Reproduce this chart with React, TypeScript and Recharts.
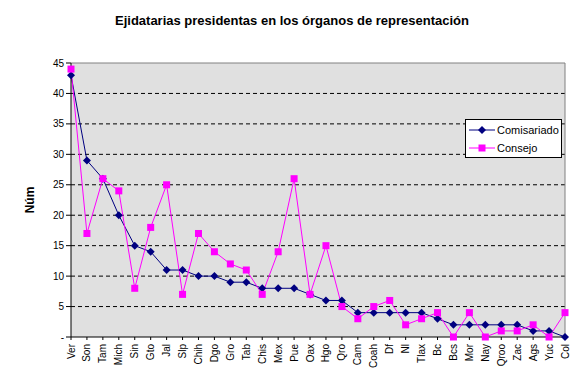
import { LineChart, Line, XAxis, YAxis, CartesianGrid, ReferenceLine } from "recharts"

const estados = [
  "Ver", "Son", "Tam", "Mich", "Sin", "Gto", "Jal", "Slp", "Chih", "Dgo", "Gro", "Tab", "Chis", "Mex", "Pue", "Oax",
  "Hgo", "Qro", "Cam", "Coah", "Df", "Nl", "Tlax", "Bc", "Bcs", "Mor", "Nay", "Qroo", "Zac", "Ags", "Yuc", "Col",
]
const comisariado = [43, 29, 26, 20, 15, 14, 11, 11, 10, 10, 9, 9, 8, 8, 8, 7, 6, 6, 4, 4, 4, 4, 4, 3, 2, 2, 2, 2, 2, 1, 1, 0]
const consejo = [44, 17, 26, 24, 8, 18, 25, 7, 17, 14, 12, 11, 7, 14, 26, 7, 15, 5, 3, 5, 6, 2, 3, 4, 0, 4, 0, 1, 1, 2, 0, 4]
const yTicks = [0, 5, 10, 15, 20, 25, 30, 35, 40, 45]
const gridValues = [5, 10, 15, 20, 25, 30, 35, 40]

const data = estados.map((e, i) => ({ estado: e, Comisariado: comisariado[i], Consejo: consejo[i] }))

const FONT = "'Liberation Sans', Arial, sans-serif"
const NAVY = "#000080"
const MAGENTA = "#FF00FF"

function Diamond(props: any) {
  const { cx, cy, index } = props
  if (cx == null || cy == null) return null
  return <path key={`d-${index}`} d={`M${cx},${cy - 4}L${cx + 4},${cy}L${cx},${cy + 4}L${cx - 4},${cy}Z`} fill={NAVY} />
}

function Square(props: any) {
  const { cx, cy, index } = props
  if (cx == null || cy == null) return null
  return <rect key={`s-${index}`} x={cx - 3.5} y={cy - 3.5} width={7} height={7} fill={MAGENTA} />
}

function XTick(props: any) {
  const { x, y, payload } = props
  return (
    <text x={x} y={y + 2} transform={`rotate(-90 ${x} ${y + 2})`} textAnchor="end" dominantBaseline="central"
      fontSize={10} fontFamily={FONT} fill="#000">
      {payload.value}
    </text>
  )
}

// legend drawn by hand so it doesn't shrink the plot area
function LegendBox() {
  return (
    <div style={{ position: "absolute", left: 465, top: 119, border: "1px solid #000", background: "#fff", width: 95, height: 37, fontFamily: FONT, fontSize: 11 }}>
      <div style={{ display: "flex", alignItems: "center", height: 18, marginTop: 1 }}>
        <svg width={30} height={10}>
          <line x1={3} y1={5} x2={29} y2={5} stroke={NAVY} />
          <path d="M16,1L20,5L16,9L12,5Z" fill={NAVY} />
        </svg>
        <span style={{ marginLeft: 1 }}>Comisariado</span>
      </div>
      <div style={{ display: "flex", alignItems: "center", height: 18 }}>
        <svg width={30} height={10}>
          <line x1={3} y1={5} x2={29} y2={5} stroke={MAGENTA} />
          <rect x={12.5} y={1.5} width={7} height={7} fill={MAGENTA} />
        </svg>
        <span style={{ marginLeft: 1 }}>Consejo</span>
      </div>
    </div>
  )
}

export default function App() {
  return (
    <div style={{ position: "absolute", left: 0, top: 0, width: 584, height: 379, background: "#fff" }}>
      <div style={{ position: "absolute", top: 13, left: 0, width: 584, textAlign: "center", fontFamily: FONT, fontWeight: "bold", fontSize: 13 }}>
        Ejidatarias presidentas en los órganos de representación
      </div>
      <div style={{ position: "absolute", left: 30, top: 200, transform: "translate(-50%,-50%) rotate(-90deg)", fontFamily: FONT, fontWeight: "bold", fontSize: 12 }}>
        Núm
      </div>
      <LineChart width={584} height={379} data={data} margin={{ top: 63, right: 19, bottom: 0, left: 0 }}>
        <CartesianGrid horizontal vertical={false} fill="#E0E0E0" stroke="#000" strokeDasharray="4 3"
          horizontalValues={gridValues} />
        <ReferenceLine y={45} stroke="#808080" />
        <ReferenceLine x="Col" stroke="#808080" />
        <XAxis dataKey="estado" interval={0} height={42} tick={<XTick />} tickSize={3} stroke="#000" axisLine={{ stroke: "#000" }} />
        <YAxis domain={[0, 45]} ticks={yTicks} width={71} tickSize={5} interval={0}
          tickFormatter={(v: number) => (v === 0 ? "-" : String(v))}
          tick={{ fontSize: 10, fontFamily: FONT, fill: "#000" }} stroke="#000" />
        <Line type="linear" dataKey="Comisariado" stroke={NAVY} strokeWidth={1} dot={<Diamond />} activeDot={false} isAnimationActive={false} />
        <Line type="linear" dataKey="Consejo" stroke={MAGENTA} strokeWidth={1} dot={<Square />} activeDot={false} isAnimationActive={false} />
      </LineChart>
      <LegendBox />
    </div>
  )
}
